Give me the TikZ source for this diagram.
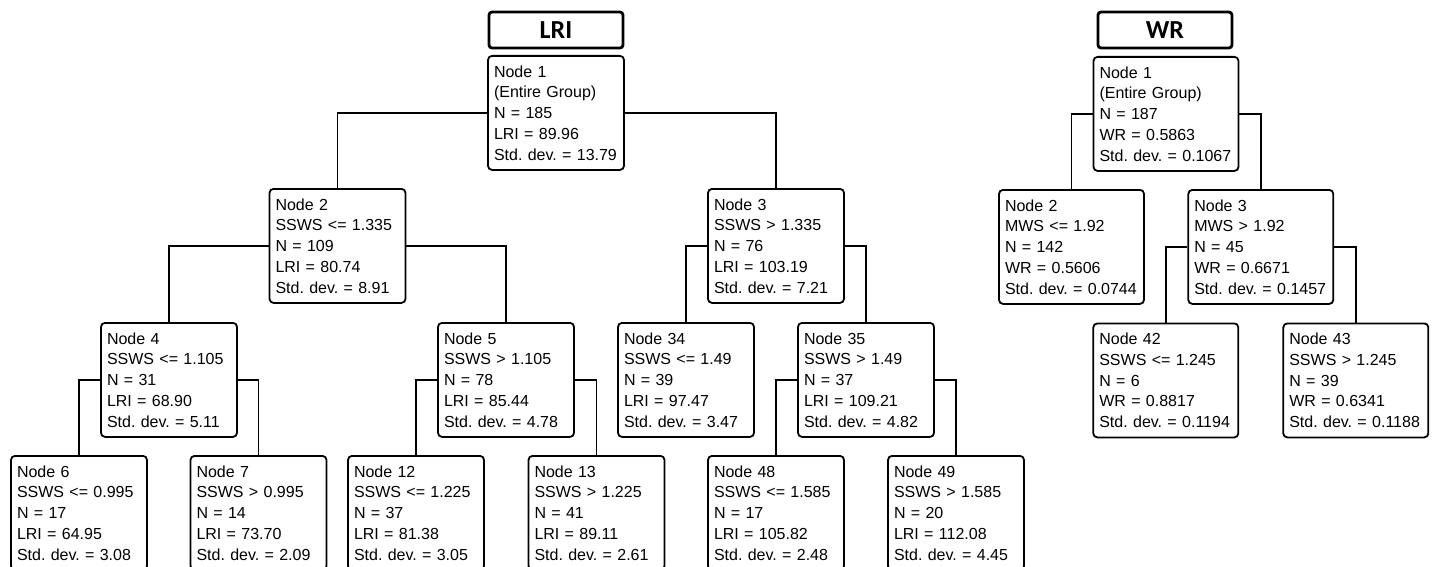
\documentclass[tikz,border=0pt]{standalone}
\usepackage{fontspec}
\setmainfont{Liberation Sans}
\newfontfamily\titlefont{Carlito}
\begin{document}
\frenchspacing
\begin{tikzpicture}[x=1pt,y=-1pt,
  tnode/.style={draw, line width=1.8pt, rounded corners=4pt, minimum height=114pt,
    text width=#1, inner xsep=6pt, inner ysep=0pt, align=left, anchor=north,
    font=\fontsize{16}{20.7}\selectfont\frenchspacing},
  tnode/.default=124pt,
  ttl/.style={draw, line width=2.8pt, rounded corners=3pt, minimum width=134pt,
    minimum height=36pt, inner sep=0pt, font=\titlefont\bfseries\fontsize{26}{26}\selectfont},
  conn/.style={line width=1.8pt}]
\useasboundingbox (0,0) rectangle (1437,567);
\clip (0,0) rectangle (1437,567);
% ---------- LRI tree ----------
\node[ttl] (tl) at (556,30) {LRI};
\node[tnode] (l1) at (556,55) {Node 1\\(Entire Group)\\N = 185\\LRI = 89.96\\\mbox{Std. dev. = 13.79}};
\node[tnode] (l2) at (337.5,188) {Node 2\\SSWS <= 1.335\\N = 109\\LRI = 80.74\\Std. dev. = 8.91};
\node[tnode] (l3) at (776,188) {Node 3\\SSWS > 1.335\\N = 76\\LRI = 103.19\\Std. dev. = 7.21};
\node[tnode] (l4) at (169,322) {Node 4\\SSWS <= 1.105\\N = 31\\LRI = 68.90\\Std. dev. = 5.11};
\node[tnode] (l5) at (506,322) {Node 5\\SSWS > 1.105\\N = 78\\LRI = 85.44\\Std. dev. = 4.78};
\node[tnode] (l34) at (686,322) {Node 34\\SSWS <= 1.49\\N = 39\\LRI = 97.47\\Std. dev. = 3.47};
\node[tnode] (l35) at (866,322) {Node 35\\SSWS > 1.49\\N = 37\\LRI = 109.21\\Std. dev. = 4.82};
\node[tnode] (l6) at (79,455) {Node 6\\SSWS <= 0.995\\N = 17\\LRI = 64.95\\Std. dev. = 3.08};
\node[tnode] (l7) at (258.5,455) {Node 7\\SSWS > 0.995\\N = 14\\LRI = 73.70\\Std. dev. = 2.09};
\node[tnode] (l12) at (416,455) {Node 12\\SSWS <= 1.225\\N = 37\\LRI = 81.38\\Std. dev. = 3.05};
\node[tnode] (l13) at (596.5,455) {Node 13\\SSWS > 1.225\\N = 41\\LRI = 89.11\\Std. dev. = 2.61};
\node[tnode] (l48) at (776,455) {Node 48\\SSWS <= 1.585\\N = 17\\LRI = 105.82\\Std. dev. = 2.48};
\node[tnode] (l49) at (956,455) {Node 49\\SSWS > 1.585\\N = 20\\LRI = 112.08\\Std. dev. = 4.45};
\draw[conn] (l1.west) -| (l2.north);
\draw[conn] (l1.east) -| (l3.north);
\draw[conn] (l2.west) -| (l4.north);
\draw[conn] (l2.east) -| (l5.north);
\draw[conn] (l3.west) -| (l34.north);
\draw[conn] (l3.east) -| (l35.north);
\draw[conn] (l4.west) -| (l6.north);
\draw[conn] (l4.east) -| (l7.north);
\draw[conn] (l5.west) -| (l12.north);
\draw[conn] (l5.east) -| (l13.north);
\draw[conn] (l35.west) -| (l48.north);
\draw[conn] (l35.east) -| (l49.north);
% ---------- WR tree ----------
\node[ttl] (tw) at (1165,30) {WR};
\node[tnode=133pt] (w1) at (1166,56) {Node 1\\(Entire Group)\\N = 187\\WR = 0.5863\\\mbox{Std. dev. = 0.1067}};
\node[tnode=133pt] (w2) at (1071.5,189) {Node 2\\MWS <= 1.92\\N = 142\\WR = 0.5606\\\mbox{Std. dev. = 0.0744}};
\node[tnode=133pt] (w3) at (1260.8,189) {Node 3\\MWS > 1.92\\N = 45\\WR = 0.6671\\\mbox{Std. dev. = 0.1457}};
\node[tnode=133pt] (w42) at (1165.8,322.5) {Node 42\\SSWS <= 1.245\\N = 6\\WR = 0.8817\\\mbox{Std. dev. = 0.1194}};
\node[tnode=133pt] (w43) at (1355.8,322.5) {Node 43\\SSWS > 1.245\\N = 39\\WR = 0.6341\\\mbox{Std. dev. = 0.1188}};
\draw[conn] (w1.west) -| (w2.north);
\draw[conn] (w1.east) -| (w3.north);
\draw[conn] (w3.west) -| (w42.north);
\draw[conn] (w3.east) -| (w43.north);
\end{tikzpicture}
\end{document}
